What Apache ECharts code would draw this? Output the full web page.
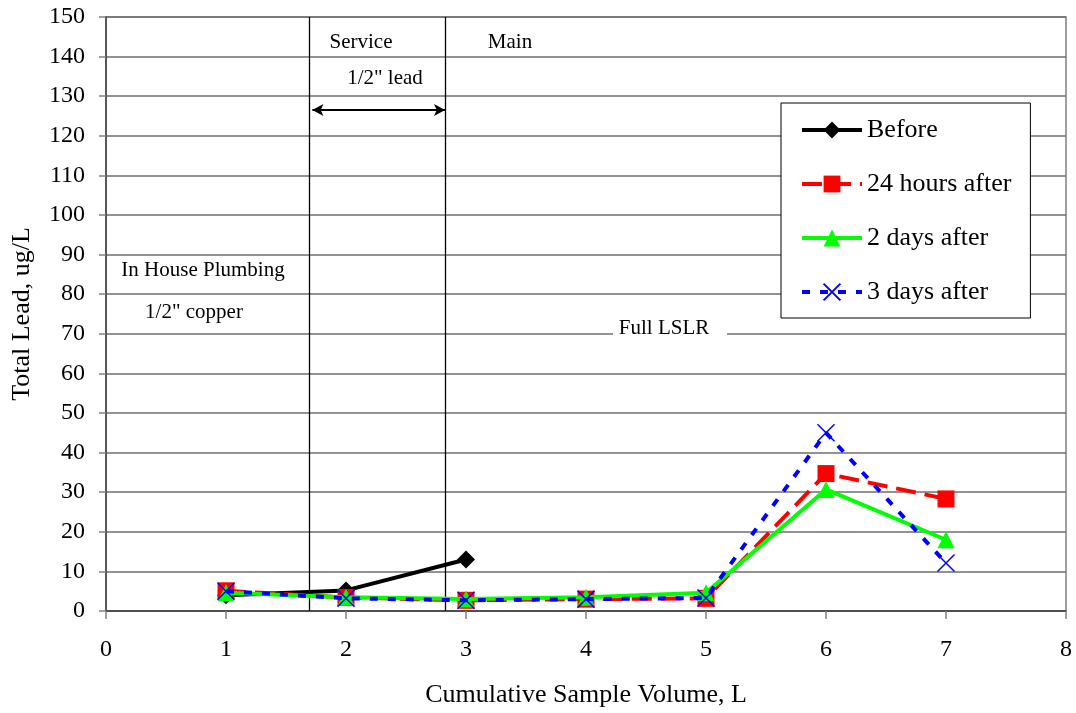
<!DOCTYPE html>
<html>
<head>
<meta charset="utf-8">
<title>Total Lead</title>
<script src="https://cdn.jsdelivr.net/npm/echarts@6/dist/echarts.min.js"></script>
<style>
  html, body { margin: 0; padding: 0; background: #fff; }
  #main { width: 1076px; height: 713px; }
</style>
</head>
<body>
<div id="main"></div>
<script>
// sample volume (L) and lead readings, ug/L
var volume = [1, 2, 3, 4, 5, 6, 7];
var before = [4, 5.2, 13];
var after24h = [5.1, 3.4, 2.7, 3, 3.2, 34.7, 28.3];
var after2d = [4.6, 3.5, 3, 3.5, 4.6, 30.7, 18];
var after3d = [5, 3.2, 2.7, 3, 3.3, 45, 12.1];
var seriesNames = ['Before', '24 hours after', '2 days after', '3 days after'];

// section boundaries along the x axis
var serviceStart = 1.6875, mainStart = 2.831;

function pairs(ys) {
  return ys.map(function (y, i) { return [volume[i], y]; });
}

var font = 'Liberation Serif, Times New Roman, serif';
var chart = echarts.init(document.getElementById('main'), null, {renderer: 'canvas'});

function note(txt, x, y) {
  return {type: 'text', x: x, y: y, z: 11,
    style: {text: txt, font: '21px ' + font, fill: '#000', align: 'center', verticalAlign: 'middle'}};
}

var option = {
  backgroundColor: '#fff',
  animation: false,
  textStyle: {fontFamily: font},
  grid: {left: 106, right: 10, top: 17, bottom: 100, show: true, borderColor: '#808080', borderWidth: 1.5},
  legend: {
    orient: 'vertical', left: 781, top: 103,
    padding: [14, 19, 13, 19],
    itemWidth: 60, itemHeight: 21, itemGap: 28,
    backgroundColor: '#fff', borderColor: '#000', borderWidth: 1, borderRadius: 0,
    lineStyle: {width: 4},
    textStyle: {fontFamily: font, fontSize: 26, lineHeight: 26, color: '#000'},
    data: seriesNames
  },
  xAxis: {
    type: 'value', min: 0, max: 8, interval: 1,
    name: 'Cumulative Sample Volume, L', nameLocation: 'middle', nameGap: 71,
    nameTextStyle: {fontFamily: font, fontSize: 26, color: '#000'},
    axisLine: {onZero: false, lineStyle: {color: '#404040', width: 1.5}},
    axisTick: {show: true, inside: false, length: 8, lineStyle: {color: '#808080', width: 1.5}},
    axisLabel: {fontFamily: font, fontSize: 24, color: '#000', margin: 27},
    splitLine: {show: false}
  },
  yAxis: {
    type: 'value', min: 0, max: 150, interval: 10,
    name: 'Total Lead, ug/L', nameLocation: 'middle', nameGap: 71,
    nameTextStyle: {fontFamily: font, fontSize: 26, color: '#000'},
    axisLine: {show: true, lineStyle: {color: '#404040', width: 1.5}},
    axisTick: {show: true, inside: false, length: 7, lineStyle: {color: '#808080', width: 1.5}},
    axisLabel: {fontFamily: font, fontSize: 24, color: '#000', margin: 21},
    splitLine: {show: true, lineStyle: {color: '#6e6e6e', width: 1.5}}
  },
  series: [
    {
      name: seriesNames[0], type: 'line', data: pairs(before),
      symbol: 'diamond', symbolSize: 18, z: 3,
      lineStyle: {color: '#000', width: 4},
      itemStyle: {color: '#000'},
      markLine: {
        silent: true, symbol: 'none', label: {show: false},
        lineStyle: {color: '#000', width: 1.3, type: 'solid'},
        data: [{xAxis: serviceStart}, {xAxis: mainStart}]
      }
    },
    {
      name: seriesNames[1], type: 'line', data: pairs(after24h),
      symbol: 'rect', symbolSize: 17, z: 4,
      lineStyle: {color: '#ff0000', width: 4, type: [20, 9]},
      itemStyle: {color: '#ff0000'},
      markLine: {
        silent: true, symbol: ['arrow', 'arrow'], symbolSize: [9, 11], label: {show: false},
        lineStyle: {color: '#000', width: 2, type: 'solid'},
        data: [[{coord: [1.72, 126.5]}, {coord: [2.825, 126.5]}]]
      }
    },
    {
      name: seriesNames[2], type: 'line', data: pairs(after2d),
      symbol: 'triangle', symbolSize: 17, z: 5,
      lineStyle: {color: '#00ff00', width: 4},
      itemStyle: {color: '#00ff00'}
    },
    {
      name: seriesNames[3], type: 'line', data: pairs(after3d),
      symbol: 'path://M0,0L10,10M10,0L0,10', symbolSize: 17, z: 6,
      lineStyle: {color: '#0000ff', width: 4, type: [8, 10]},
      itemStyle: {color: 'rgba(0,0,0,0)', borderColor: '#0000ff', borderWidth: 1.5}
    }
  ],
  graphic: [
    note('Service', 361, 42),
    note('Main', 510, 42),
    note('1/2" lead', 385, 78),
    note('In House Plumbing', 203, 270),
    note('1/2" copper', 194, 312),
    {type: 'rect', x: 613, y: 318, z: 10, shape: {width: 114, height: 22}, style: {fill: '#fff'}},
    note('Full LSLR', 664, 328)
  ]
};

chart.setOption(option);
</script>
</body>
</html>
